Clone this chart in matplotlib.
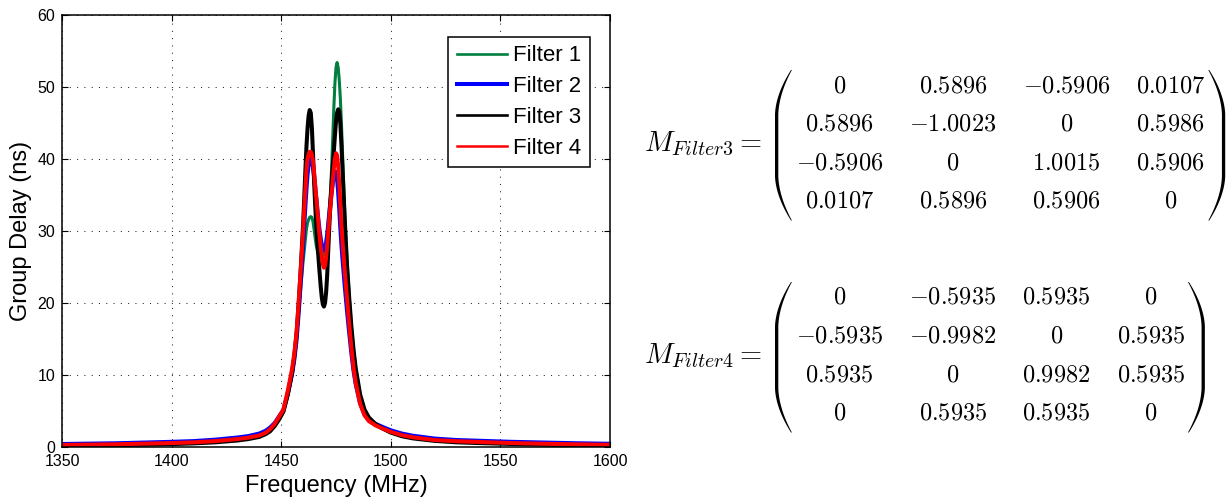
import numpy as np
import matplotlib
matplotlib.use('Agg')
import matplotlib.pyplot as plt
from matplotlib.patches import Polygon

plt.rcParams['font.family'] = ['Liberation Sans', 'DejaVu Sans']
plt.rcParams['mathtext.fontset'] = 'cm'

# ---------------- data ----------------
freq = [1350, 1375, 1400, 1410, 1420, 1430, 1435, 1440, 1443, 1445, 1447, 1449,
        1451, 1453, 1455, 1456, 1457, 1458, 1459, 1460, 1460.5, 1461, 1461.5,
        1462, 1462.5, 1463, 1463.5, 1464, 1464.5, 1465, 1465.5, 1466, 1466.5,
        1467, 1467.5, 1468, 1468.5, 1469, 1469.5, 1470, 1470.5, 1471, 1471.5,
        1472, 1472.5, 1473, 1473.5, 1474, 1474.5, 1475, 1475.5, 1476, 1476.5,
        1477, 1477.5, 1478, 1479, 1480, 1481, 1482, 1483, 1484, 1486, 1488,
        1490, 1493, 1496, 1500, 1505, 1510, 1520, 1530, 1540, 1555, 1570, 1585,
        1600]

filter1 = [0.25, 0.35, 0.5, 0.6, 0.78, 1.05, 1.25, 1.55, 1.95, 2.4, 3.1, 4.0,
           5.0, 7.2, 10.2, 12.4, 15.1, 18.7, 22.5, 25.8, 27.2, 28.8, 30.2,
           31.1, 31.6, 31.9, 32.0, 31.9, 31.3, 30.2, 29.0, 28.0, 27.3,
           26.8, 26.4, 26.2, 26.2, 26.4, 26.8, 27.5, 28.5, 29.8, 31.3,
           33.2, 35.6, 38.8, 42.8, 47.0, 50.5, 52.7, 53.4, 52.7, 50.9,
           48.3, 44.8, 40.6, 32.5, 26.0, 21.0, 16.9, 13.6, 11.0, 7.3, 5.2,
           4.0, 3.1, 2.6, 2.0, 1.55, 1.25, 0.9, 0.72, 0.62, 0.48, 0.38, 0.31,
           0.26]

filter2 = [0.4, 0.5, 0.7, 0.8, 1.0, 1.3, 1.5, 1.85, 2.25, 2.7, 3.3, 4.2,
           5.1, 7.4, 10.3, 12.3, 15.0, 19.0, 23.5, 28.3, 31.0, 33.6, 36.0,
           38.0, 39.2, 39.9, 40.1, 39.8, 39.0, 37.7, 36.0, 34.4, 32.8,
           31.3, 30.0, 28.9, 28.0, 27.5, 27.4, 27.6, 28.3, 29.4, 30.9,
           32.5, 34.0, 35.4, 36.7, 37.7, 38.2, 38.2, 37.4, 35.6, 33.2,
           30.6, 28.2, 26.2, 22.5, 19.2, 16.1, 13.2, 10.7, 8.8, 6.1, 4.6,
           3.8, 3.2, 2.8, 2.3, 1.85, 1.55, 1.15, 0.95, 0.85, 0.7, 0.6, 0.5,
           0.43]

filter3 = [0.18, 0.25, 0.4, 0.5, 0.65, 0.9, 1.1, 1.4, 1.8, 2.2, 2.9, 3.8,
           4.9, 7.3, 10.4, 12.7, 15.7, 20.0, 25.2, 31.0, 34.5, 38.2, 41.6,
           44.2, 46.0, 46.8, 46.4, 44.3, 40.8, 37.0, 33.6, 30.8, 28.4,
           26.3, 24.3, 22.4, 20.8, 19.8, 19.5, 20.0, 21.5, 24.0, 27.6,
           31.0, 34.0, 36.6, 39.0, 41.0, 43.2, 45.2, 46.4, 46.9, 46.6,
           44.8, 41.8, 38.4, 31.5, 25.4, 20.8, 16.8, 13.5, 10.9, 7.3, 5.2,
           4.1, 3.2, 2.6, 2.0, 1.5, 1.2, 0.85, 0.65, 0.55, 0.42, 0.32, 0.25,
           0.2]

filter4 = [0.28, 0.38, 0.55, 0.65, 0.82, 1.1, 1.3, 1.6, 2.0, 2.5, 3.2, 4.2,
           5.2, 7.8, 10.9, 13.0, 15.9, 20.3, 25.0, 30.0, 33.0, 35.6, 38.3,
           40.0, 40.6, 41.0, 41.0, 40.6, 39.7, 38.2, 36.3, 34.6, 32.8,
           31.0, 29.3, 27.8, 26.5, 25.4, 24.9, 25.2, 26.3, 28.0, 30.0,
           31.9, 33.7, 35.4, 36.9, 38.6, 40.0, 40.8, 40.5, 39.0, 36.5,
           33.5, 30.6, 28.4, 24.3, 20.7, 17.1, 13.8, 11.0, 8.9, 6.0, 4.4,
           3.6, 3.0, 2.6, 2.1, 1.65, 1.35, 0.97, 0.8, 0.7, 0.55, 0.45, 0.37,
           0.3]

series = [filter1, filter2, filter3, filter4]
series_labels = ['Filter 1', 'Filter 2', 'Filter 3', 'Filter 4']
series_colors = ['#007f3f', '#0000ff', '#000000', '#ff0000']
series_widths = [2.2, 3.1, 2.9, 2.9]
legend_widths = [1.9, 2.9, 1.9, 1.8]

x_ticks = [1350, 1400, 1450, 1500, 1550, 1600]
y_ticks = [0, 10, 20, 30, 40, 50, 60]

matrix3_label = r'$M_{Filter3} =$'
matrix3 = [['0', '0.5896', '-0.5906', '0.0107'],
           ['0.5896', '-1.0023', '0', '0.5986'],
           ['-0.5906', '0', '1.0015', '0.5906'],
           ['0.0107', '0.5896', '0.5906', '0']]
matrix4_label = r'$M_{Filter4} =$'
matrix4 = [['0', '-0.5935', '0.5935', '0'],
           ['-0.5935', '-0.9982', '0', '0.5935'],
           ['0.5935', '0', '0.9982', '0.5935'],
           ['0', '0.5935', '0.5935', '0']]

# ---------------- figure ----------------
W, H = 1228, 499
fig = plt.figure(figsize=(W / 100, H / 100), dpi=100)
ax = fig.add_axes([62 / W, 1 - 447 / H, (610 - 62) / W, (447 - 15) / H])

for ys, lab, c, lw in zip(series, series_labels, series_colors, series_widths):
    ax.plot(freq, ys, color=c, lw=lw, label=lab, solid_joinstyle='round')

ax.set_xlim(1350, 1600)
ax.set_ylim(0, 60)
ax.set_xticks(x_ticks)
ax.set_yticks(y_ticks)
ax.grid(True, color='0.15', linestyle=(0, (1, 6)), linewidth=0.75)
ax.tick_params(direction='in', top=True, right=True, length=4, width=0.8,
               labelsize=11.5, pad=5)
for s in ax.spines.values():
    s.set_linewidth(1.1)
ax.set_xlabel('Frequency (MHz)', fontsize=17)
ax.set_ylabel('Group Delay (ns)', fontsize=17)
ax.xaxis.set_label_coords(0.5, -0.064)
ax.yaxis.set_label_coords(-0.055, 0.5)

leg = ax.legend(loc='upper right', bbox_to_anchor=((590 - 62) / 548, 0.949),
                borderaxespad=0, fontsize=16, handlelength=2.25,
                handletextpad=0.3, labelspacing=0.44, fancybox=False,
                edgecolor='k', framealpha=1, borderpad=0.38)
leg.get_frame().set_linewidth(1.1)
for ln, lw in zip(leg.get_lines(), legend_widths):
    ln.set_linewidth(lw)

# ---------------- matrices (overlay in pixel coordinates) ----------------
ov = fig.add_axes([0, 0, 1, 1])
ov.set_xlim(0, W)
ov.set_ylim(H, 0)
ov.axis('off')
ov.patch.set_alpha(0)

renderer = fig.canvas.get_renderer()
FS = 17.5
FS_LABEL = 20.5


def paren(x_out, x_end, y0, y1, side):
    t = np.linspace(0, 1, 240)
    u = np.abs(2 * t - 1)
    a = 0.40
    f = np.clip((u - a) / (1 - a), 0, None) ** 1.8
    depth = abs(x_end - x_out)
    thick = 0.9 + 2.4 * (1 - f)
    ys = y0 + t * (y1 - y0)
    if side == 'left':
        xo = x_out + depth * f
        xi = xo + thick
    else:
        xo = x_out - depth * f
        xi = xo - thick
    pts = np.concatenate([np.c_[xo, ys], np.c_[xi[::-1], ys[::-1]]])
    ov.add_patch(Polygon(pts, closed=True, facecolor='k', edgecolor='none'))


def draw_matrix(entries, label, x_left, rows, gap):
    texts = [[ov.text(0, 0, '$' + e + '$', fontsize=FS, ha='center',
                      va='center') for e in row] for row in entries]
    widths = [max(texts[i][j].get_window_extent(renderer).width
                  for i in range(4)) for j in range(4)]
    x = x_left
    for j in range(4):
        cx = x + widths[j] / 2
        for i in range(4):
            texts[i][j].set_position((cx, rows[i]))
        x += widths[j] + gap
    x_right = x - gap
    yc = (rows[0] + rows[-1]) / 2
    y0, y1 = rows[0] - 16, rows[-1] + 19
    paren(x_left - 21, x_left - 5, y0, y1, 'left')
    paren(x_right + 20, x_right + 4, y0, y1, 'right')
    ov.text(762, yc + 7.5, label, fontsize=FS_LABEL, ha='right',
            va='baseline')


draw_matrix(matrix3, matrix3_label, 796, [86, 124.5, 163, 201.5], 26)
draw_matrix(matrix4, matrix4_label, 796, [298, 336.5, 375, 413.5], 26)

fig.savefig('out.png', dpi=100)
